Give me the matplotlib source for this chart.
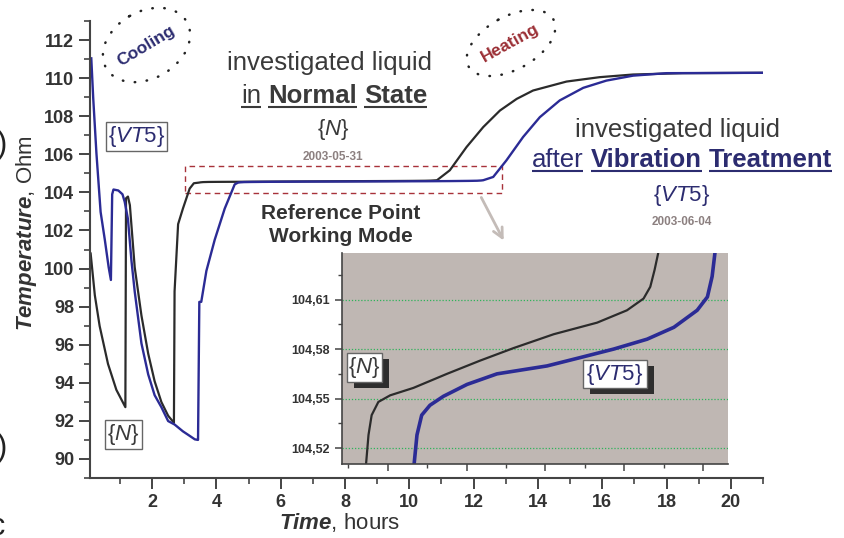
import matplotlib
matplotlib.use("Agg")
import numpy as np
from matplotlib import pyplot as plt
from matplotlib.patches import Ellipse, Rectangle
from matplotlib.ticker import MultipleLocator, FuncFormatter

plt.rcParams['font.family'] = ['Liberation Sans', 'DejaVu Sans']
plt.rcParams['mathtext.fontset'] = 'custom'
plt.rcParams['mathtext.rm'] = 'Liberation Sans'
plt.rcParams['mathtext.it'] = 'Liberation Sans:italic'
plt.rcParams['mathtext.bf'] = 'Liberation Sans:bold'
plt.rcParams['mathtext.bfit'] = 'Liberation Sans:bold:italic'

# --- data (time in hours, temperature in Ohm) ---
# {N}: liquid in normal state
n_cool_t = [0.09, 0.22, 0.37, 0.63, 0.89, 1.17, 1.19, 1.25, 1.31, 1.46, 1.67, 1.88,
            2.08, 2.29, 2.50, 2.68, 2.70, 2.81, 2.96, 3.17, 3.30]
n_cool_v = [100.79, 98.6, 96.98, 94.99, 93.63, 92.72, 103.69, 103.78, 103.33, 100.07,
            97.53, 95.53, 94.08, 92.99, 92.27, 91.9, 98.8, 102.33, 103.15, 104.2, 104.48]
n_flat_t = [3.45, 3.51, 3.59, 3.76, 4.06, 4.65, 5.50, 6.34, 7.19, 8.21, 9.31, 10.07,
            10.49, 10.66, 10.77, 10.86]
n_flat_v = [104.511, 104.528, 104.540, 104.548, 104.552, 104.5565, 104.565, 104.573,
            104.5806, 104.589, 104.596, 104.6035, 104.6106, 104.6177, 104.628, 104.638]
n_heat_t = [11.26, 11.78, 12.30, 12.82, 13.34, 13.85, 14.89, 15.92, 16.96, 18.5, 21.0]
n_heat_v = [105.16, 106.38, 107.43, 108.30, 108.91, 109.35, 109.82, 110.05, 110.19,
            110.26, 110.28]

# {VT5}: liquid after vibration treatment
v_cool_t = [0.11, 0.17, 0.27, 0.40, 0.53, 0.65, 0.72, 0.76, 0.80, 0.95, 1.08, 1.15,
            1.25, 1.36, 1.46, 1.67, 1.88, 2.08, 2.29, 2.50, 2.70, 2.96, 3.12, 3.33,
            3.43, 3.47, 3.53, 3.69, 3.95, 4.26, 4.57]
v_cool_v = [111.04, 108.95, 106.05, 102.97, 101.52, 100.07, 99.4, 103.9, 104.15, 104.1,
            103.9, 103.5, 102.6, 100.4, 98.8, 96.07, 94.44, 93.35, 92.72, 91.99, 91.81,
            91.45, 91.27, 91.03, 91.0, 98.25, 98.25, 99.88, 101.52, 103.15, 104.42]
v_flat_t = [4.67, 4.74, 4.86, 5.07, 5.41, 6.01, 6.77, 8.04, 8.89, 9.73, 10.58, 11.26,
            11.85, 12.11, 12.23, 12.30]
v_flat_v = [104.511, 104.528, 104.540, 104.546, 104.5514, 104.5586, 104.565, 104.5698,
            104.5749, 104.580, 104.586, 104.5932, 104.6035, 104.6116, 104.624, 104.638]
v_heat_t = [12.61, 13.02, 13.54, 14.06, 14.68, 15.41, 16.13, 16.96, 18.0, 21.0]
v_heat_v = [104.81, 105.68, 106.91, 107.95, 108.83, 109.49, 109.87, 110.13, 110.26, 110.28]

x_ticks = [2, 4, 6, 8, 10, 12, 14, 16, 18, 20]
y_ticks = [90, 92, 94, 96, 98, 100, 102, 104, 106, 108, 110, 112]
inset_y_ticks = [104.52, 104.55, 104.58, 104.61]

DARK = '#2b2b2b'
NAVY = '#2b2b95'
TXT = '#3a3a3a'
TXT_NAVY = '#2c2c70'
DATE = '#8c8080'

W, H = 845, 538
fig = plt.figure(figsize=(W / 100, H / 100), dpi=100)

# main axes
ax = fig.add_axes([90 / W, 1 - 478 / H, 673 / W, 457 / H])
ax.plot(n_cool_t + n_flat_t + n_heat_t, n_cool_v + n_flat_v + n_heat_v, color=DARK, lw=1.6)
ax.plot(v_cool_t + v_flat_t + v_heat_t, v_cool_v + v_flat_v + v_heat_v, color=NAVY, lw=1.7)
ax.set_xlim(0.07, 21)
ax.set_ylim(89, 113)
ax.set_xticks(x_ticks)
ax.set_yticks(y_ticks)
ax.xaxis.set_minor_locator(MultipleLocator(1))
ax.yaxis.set_minor_locator(MultipleLocator(1))
for s in ['top', 'right']:
    ax.spines[s].set_visible(False)
for s in ['left', 'bottom']:
    ax.spines[s].set_color('#444444')
    ax.spines[s].set_linewidth(1.5)
ax.tick_params(which='major', length=8, width=1.4, color='#444444', labelsize=13,
               labelcolor='#333333')
ax.tick_params(which='minor', length=4.5, width=1.2, color='#444444')
for lab in ax.get_xticklabels() + ax.get_yticklabels():
    lab.set_fontweight('bold')

# dashed frame round the working-mode plateau
ax.add_patch(Rectangle((3.04, 103.97), 12.89 - 3.04, 105.38 - 103.97, fill=False,
                       ec='#a8323a', lw=1.0, ls=(0, (4, 3))))

# inset
axin = fig.add_axes([341.7 / W, 1 - 463.7 / H, 386.6 / W, 210.4 / H], zorder=3)
axin.set_facecolor('#bfb7b3')
axin.plot(n_flat_t, n_flat_v, color=DARK, lw=1.6)
axin.plot(v_flat_t, v_flat_v, color=NAVY, lw=2.6)
axin.set_xlim(2.83, 12.64)
axin.set_ylim(104.5106, 104.638)
axin.set_yticks(inset_y_ticks)
axin.yaxis.set_minor_locator(MultipleLocator(0.015))
axin.xaxis.set_major_locator(MultipleLocator(2))
axin.xaxis.set_minor_locator(MultipleLocator(1))
axin.xaxis.set_major_formatter(FuncFormatter(lambda v, p: ''))
axin.yaxis.set_major_formatter(FuncFormatter(lambda v, p: f'{v:.2f}'.replace('.', ',')))
axin.grid(axis='y', which='major', color='#2fb35a', ls=(0, (1, 1.5)), lw=0.9)
for s in ['top', 'right']:
    axin.spines[s].set_visible(False)
for s in ['left', 'bottom']:
    axin.spines[s].set_color('#444444')
    axin.spines[s].set_linewidth(1.2)
axin.tick_params(which='major', length=5, width=1.1, color='#444444', labelsize=9,
                 labelcolor='#333333')
axin.tick_params(which='minor', length=3, width=1.0, color='#444444')
for lab in axin.get_yticklabels():
    lab.set_fontweight('bold')

# overlay in pixel units for all annotations
ov = fig.add_axes([0, 0, 1, 1], zorder=5)
ov.set_xlim(0, W)
ov.set_ylim(H, 0)
ov.axis('off')
ov.patch.set_visible(False)

renderer = fig.canvas.get_renderer()


def word_row(words, cx, base, size, color, gap=0.28):
    items = []
    for s, bold, under in words:
        t = ov.text(0, base, s, fontsize=size, fontweight='bold' if bold else 'normal',
                    color=color, va='baseline', ha='left')
        items.append((t, t.get_window_extent(renderer).width, under))
    sp = gap * size * 100 / 72
    total = sum(w for _, w, _ in items) + sp * (len(items) - 1)
    x = cx - total / 2
    for t, w, under in items:
        t.set_x(x)
        if under:
            ov.plot([x, x + w], [base + 3.5, base + 3.5], color=color, lw=1.5,
                    solid_capstyle='butt')
        x += w + sp


# left caption
ov.text(330, 70, 'investigated liquid', fontsize=18.5, color=TXT, ha='center', va='baseline')
word_row([('in', False, True), ('Normal', True, True), ('State', True, True)],
         334, 103, 18.5, TXT)
ov.text(333, 129, r'$\{\mathit{N}\}$', fontsize=16, color=TXT, ha='center', va='center')
ov.text(333, 160, '2003-05-31', fontsize=8.5, fontweight='bold', color=DATE,
        ha='center', va='baseline')

# right caption
ov.text(678, 137, 'investigated liquid', fontsize=18.5, color=TXT, ha='center', va='baseline')
word_row([('after', False, True), ('Vibration', True, True), ('Treatment', True, True)],
         682, 167, 18.5, TXT_NAVY)
ov.text(682, 196, r'$\{\mathit{VT5}\}$', fontsize=16, color=TXT_NAVY, ha='center', va='center')
ov.text(682, 225, '2003-06-04', fontsize=8.5, fontweight='bold', color=DATE,
        ha='center', va='baseline')

ov.text(341, 225, 'Reference Point\nWorking Mode', fontsize=15, fontweight='bold',
        color='#333333', ha='center', va='center', linespacing=1.25)

# cooling / heating tags
ov.add_patch(Ellipse((146.5, 45), 93, 67, angle=-30, fill=False, ec='#222222', lw=1.8,
                     ls=(0, (0.2, 4.6)), capstyle='round'))
ov.text(146, 46, 'Cooling', fontsize=12.5, fontweight='bold', color=TXT_NAVY,
        rotation=31, ha='center', va='center', rotation_mode='anchor')
ov.add_patch(Ellipse((511, 43), 97, 53, angle=-29, fill=False, ec='#222222', lw=1.8,
                     ls=(0, (0.2, 4.6)), capstyle='round'))
ov.text(510, 43, 'Heating', fontsize=12.5, fontweight='bold', color='#9b2f35',
        rotation=29, ha='center', va='center', rotation_mode='anchor')

ov.annotate('', xy=(505, 243), xytext=(480, 195),
            arrowprops=dict(arrowstyle='->,head_length=0.7,head_width=0.35',
                            color='#c4bcb8', lw=2))

# series tags in the main plot
ov.text(136.5, 136.5, r'$\{\mathit{VT5}\}$', fontsize=16, color=TXT_NAVY, ha='center',
        va='center', bbox=dict(boxstyle='square,pad=0.1', fc='white', ec='#666666', lw=1))
ov.text(123.5, 434.5, r'$\{\mathit{N}\}$', fontsize=16, color=TXT, ha='center',
        va='center', bbox=dict(boxstyle='square,pad=0.1', fc='white', ec='#666666', lw=1))


# series tags in the inset, with drop shadow
def shadow_tag(x0, y0, x1, y1, label, color):
    ov.add_patch(Rectangle((x0 + 7, y0 + 6), x1 - x0, y1 - y0, fc='#2e2e2e', ec='none'))
    ov.add_patch(Rectangle((x0, y0), x1 - x0, y1 - y0, fc='white', ec='#666666', lw=1))
    ov.text((x0 + x1) / 2, (y0 + y1) / 2, label, fontsize=16, color=color,
            ha='center', va='center')


shadow_tag(346.7, 352.7, 381.7, 381.7, r'$\{\mathit{N}\}$', TXT)
shadow_tag(582.7, 360, 646.7, 388.3, r'$\{\mathit{VT5}\}$', TXT_NAVY)

# axis titles
ov.text(27, 233, r'$\mathbfit{Temperature}$, Ohm', fontsize=16, color='#333333',
        rotation=90, ha='center', va='center')
ov.text(340, 522, r'$\mathbfit{Time}$, hours', fontsize=16, color='#333333',
        ha='center', va='center')

# clipped glyphs at the left page edge
ov.text(7, 145, ')', fontsize=22, color='#222222', ha='right', va='center')
ov.text(7, 448, ')', fontsize=22, color='#222222', ha='right', va='center')
ov.text(5, 527, 'c', fontsize=22, color='#222222', ha='right', va='center')

fig.savefig('out.png', dpi=100)
